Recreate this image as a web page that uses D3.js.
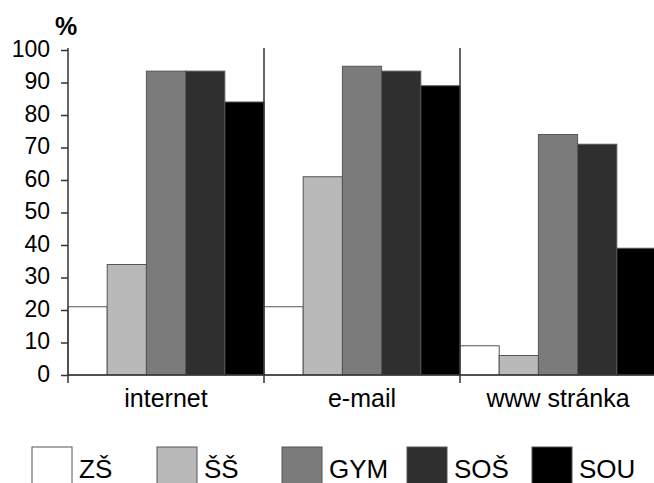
<!DOCTYPE html>
<html>
<head>
<meta charset="utf-8">
<script src="https://cdn.jsdelivr.net/npm/d3@7"></script>
<style>
  html, body { margin: 0; padding: 0; background: #fff; }
  svg { display: block; }
  text { font-family: "Liberation Sans", Arial, sans-serif; fill: #000; }
</style>
</head>
<body>
<svg id="chart" width="654" height="483"></svg>
<script>
const categories = ["internet", "e-mail", "www stránka"];
const seriesNames = ["ZŠ", "ŠŠ", "GYM", "SOŠ", "SOU"];
const seriesColors = ["#ffffff", "#b9b9b9", "#7b7b7b", "#2f2f2f", "#000000"];
const valuesZS  = [21, 21, 9];
const valuesSS  = [34, 61, 6];
const valuesGYM = [93.5, 95, 74];
const valuesSOS = [93.5, 93.5, 71];
const valuesSOU = [84, 89, 39];
const yTicks = [0, 10, 20, 30, 40, 50, 60, 70, 80, 90, 100];

const seriesValues = [valuesZS, valuesSS, valuesGYM, valuesSOS, valuesSOU];

const svg = d3.select("#chart");
const mLeft = 68, mRight = 656, mTop = 50, mBottom = 375;

const x0 = d3.scaleBand().domain(categories).range([mLeft, mRight]).padding(0);
const x1 = d3.scaleBand().domain(seriesNames).range([0, x0.bandwidth()]).padding(0);
const y = d3.scaleLinear().domain([0, 100]).range([mBottom, mTop]);

// bars
const groups = svg.append("g").selectAll("g")
  .data(categories)
  .join("g")
  .attr("transform", d => `translate(${x0(d)},0)`);

groups.selectAll("rect")
  .data((c, ci) => seriesNames.map((s, si) => ({ s, si, v: seriesValues[si][ci] })))
  .join("rect")
  .attr("x", d => x1(d.s))
  .attr("y", d => y(d.v))
  .attr("width", x1.bandwidth())
  .attr("height", d => y(0) - y(d.v))
  .attr("fill", d => seriesColors[d.si])
  .attr("stroke", "#555")
  .attr("stroke-width", 1);

// y axis
const yAxis = d3.axisLeft(y).tickValues(yTicks).tickSize(7).tickPadding(11).tickFormat(d3.format("d"));
const yg = svg.append("g").attr("transform", `translate(${mLeft},0)`).call(yAxis);
yg.select(".domain").remove();
yg.selectAll(".tick line").attr("stroke", "#333").attr("stroke-width", 1.5);
yg.selectAll(".tick text").attr("font-size", 23).attr("font-family", "Liberation Sans, Arial, sans-serif").attr("fill", "#000").attr("dy", "0.28em");

// baseline
svg.append("line")
  .attr("x1", mLeft).attr("x2", mRight)
  .attr("y1", y(0)).attr("y2", y(0))
  .attr("stroke", "#333").attr("stroke-width", 1.5);

// vertical separators (band edges)
const edges = categories.map(c => x0(c)).concat([x0(categories[categories.length - 1]) + x0.bandwidth()]);
svg.append("g").selectAll("line")
  .data(edges)
  .join("line")
  .attr("x1", d => d).attr("x2", d => d)
  .attr("y1", (d, i) => i === edges.length - 1 ? y(0) : y(100) - 2)
  .attr("y2", y(0) + 8)
  .attr("stroke", "#333").attr("stroke-width", 1.5);

// category labels
const xAxis = d3.axisBottom(x0).tickSize(0).tickPadding(0);
const xg = svg.append("g").attr("transform", `translate(0,${y(0)})`).call(xAxis);
xg.select(".domain").remove();
xg.selectAll(".tick text")
  .attr("font-size", 25)
  .attr("font-family", "Liberation Sans, Arial, sans-serif")
  .attr("fill", "#000")
  .attr("y", 32).attr("dy", 0);

// % label
svg.append("text")
  .attr("x", 66).attr("y", 35)
  .attr("text-anchor", "middle")
  .attr("font-size", 25)
  .attr("font-weight", "bold")
  .text("%");

// legend
const legendX = d3.scalePoint().domain(seriesNames).range([32, 532]);
const lg = svg.append("g").selectAll("g")
  .data(seriesNames)
  .join("g")
  .attr("transform", d => `translate(${legendX(d)},447)`);
lg.append("rect")
  .attr("width", 40).attr("height", 42)
  .attr("fill", (d, i) => seriesColors[i])
  .attr("stroke", "#555").attr("stroke-width", 1);
lg.append("text")
  .attr("x", 47).attr("y", 31)
  .attr("font-size", 26)
  .text(d => d);
</script>
</body>
</html>
